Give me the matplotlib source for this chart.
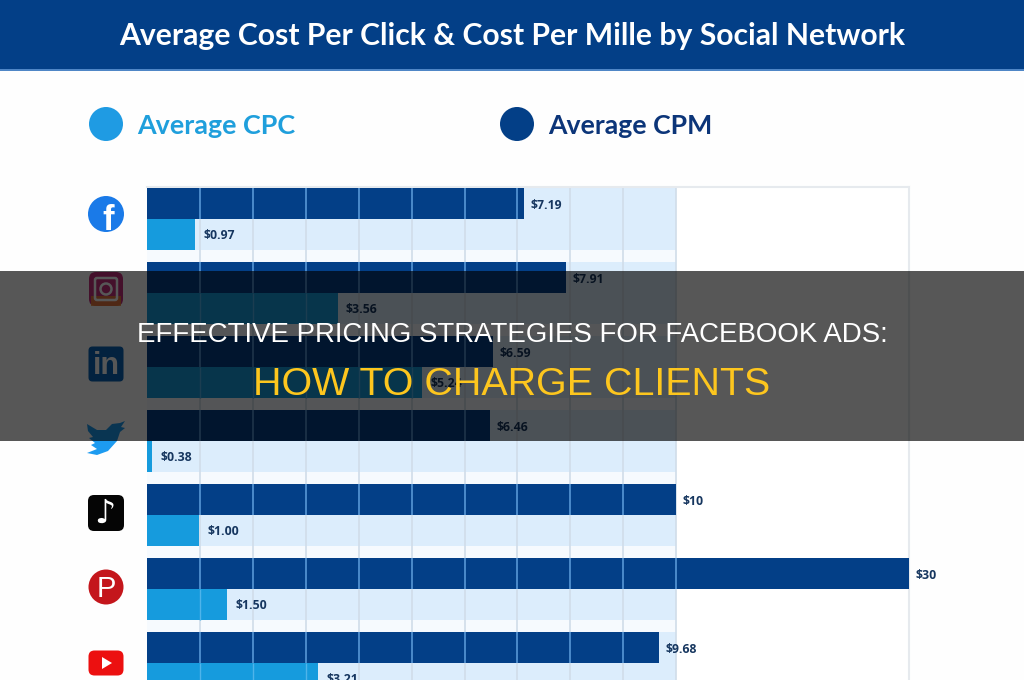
import numpy as np
import matplotlib
matplotlib.use('Agg')
import matplotlib.pyplot as plt
from matplotlib.patches import Circle, FancyBboxPatch, Polygon, Rectangle

networks = ['Facebook', 'Instagram', 'LinkedIn', 'Twitter', 'TikTok', 'Pinterest', 'YouTube']
cpm = [7.12, 7.92, 6.54, 6.48, 10, 30, 9.68]
cpc = [0.91, 3.6, 5.2, 0.1, 0.98, 1.51, 3.23]
cpm_labels = ['$7.19', '$7.91', '$6.59', '$6.46', '$10', '$30', '$9.68']
cpc_labels = ['$0.97', '$3.56', '$5.24', '$0.38', '$1.00', '$1.50', '$3.21']
grid_values = [1, 2, 3, 4, 5, 6, 7, 8, 9, 10]

title = 'Average Cost Per Click & Cost Per Mille by Social Network'
banner_top = 'EFFECTIVE PRICING STRATEGIES FOR FACEBOOK ADS:'
banner_bottom = 'HOW TO CHARGE CLIENTS'

DARK = '#033f87'
LIGHT = '#169bdd'
BAND = '#dcedfc'
LABEL = '#16365f'


def forward(x):
    x = np.asarray(x, dtype=float)
    return np.where(x <= 10, x, 10 + (x - 10) * 0.22)


def inverse(x):
    x = np.asarray(x, dtype=float)
    return np.where(x <= 10, x, 10 + (x - 10) / 0.22)


fig = plt.figure(figsize=(10.24, 6.8), dpi=100, facecolor='#fefefe')

# chart axes, rows are one unit apart (74 px)
ax = fig.add_axes([147 / 1024, 0, (909 - 147) / 1024, (680 - 187) / 680])
ax.set_xscale('function', functions=(forward, inverse))
ax.set_xlim(0, 30)
ax.set_ylim(6.23, -0.43)
ax.set_facecolor('white')

rows = np.arange(len(networks))
ax.axvspan(0, 10, color='#f6fafe', lw=0, zorder=0)
ax.barh(rows, [10] * len(rows), height=0.84, color=BAND, zorder=1)
ax.vlines(grid_values, -0.43, 6.23, color='#d0dde9', lw=1.2, zorder=2)
ax.barh(rows - 0.21, cpm, height=0.42, color=DARK, zorder=3)
ax.barh(rows + 0.21, cpc, height=0.42, color=LIGHT, zorder=3)

# grid shows through the bars as thin light lines
for i in rows:
    xs = [g for g in grid_values if g < cpm[i]]
    ax.vlines(xs, i - 0.42, i, color='#5f9fdc', lw=1.1, zorder=4)
    xs = [g for g in grid_values if g < cpc[i]]
    ax.vlines(xs, i, i + 0.42, color='#4fb4ea', lw=1.0, zorder=4)
    ax.annotate(cpm_labels[i], (cpm[i], i - 0.21), xytext=(4.5, -1.5), textcoords='offset points',
                va='center', fontsize=8.8, fontweight='bold', color=LABEL,
                family='Open Sans', zorder=5)
    ax.annotate(cpc_labels[i], (cpc[i], i + 0.21), xytext=(6, -0.5), textcoords='offset points',
                va='center', fontsize=8.8, fontweight='bold', color=LABEL,
                family='Open Sans', zorder=5)

ax.set_xticks([])
ax.set_yticks([])
ax.spines['left'].set_visible(False)
ax.spines['bottom'].set_visible(False)
ax.spines['top'].set_color('#e6eaee')
ax.spines['right'].set_color('#e6eaee')
ax.spines['top'].set_linewidth(1.5)
ax.spines['right'].set_linewidth(1.5)

# overlay in pixel coordinates for header, legend, icons and banner
ov = fig.add_axes([0, 0, 1, 1], zorder=5)
ov.set_xlim(0, 1024)
ov.set_ylim(680, 0)
ov.axis('off')
ov.patch.set_alpha(0)

ov.add_patch(Rectangle((0, 0), 1024, 69, color=DARK, lw=0))
ov.add_patch(Rectangle((0, 69), 1024, 1.5, color='#4f86c6', lw=0))
ov.text(512, 36, title, color='white', ha='center', va='center', fontsize=21.7,
        fontweight='bold', family='Lato')

ov.add_patch(Circle((106, 124), 17, color='#1f9be3', lw=0))
ov.text(137, 126, 'Average CPC', color='#1f9fdc', va='center', fontsize=19.4,
        fontweight='bold', family='Lato')
ov.add_patch(Circle((517, 124), 17, color=DARK, lw=0))
ov.text(548, 126, 'Average CPM', color='#0c3579', va='center', fontsize=19.2,
        fontweight='bold', family='Lato')


def rounded(cx, cy, w, h, color, r=5):
    ov.add_patch(FancyBboxPatch((cx - w / 2 + r, cy - h / 2 + r), w - 2 * r, h - 2 * r,
                                boxstyle=f'round,pad={r}', color=color, lw=0))


# icons
ov.add_patch(Circle((106, 214), 18, color='#1a7ae8', lw=0))
ov.text(108, 220, 'f', color='white', ha='center', va='center', fontsize=25,
        fontweight='bold', family='Liberation Sans')

rounded(106, 289, 34, 34, '#c8307f', r=7)
ov.add_patch(Rectangle((91, 296), 30, 10, color='#f08a30', lw=0, alpha=0.8))
ov.add_patch(FancyBboxPatch((97, 280), 18, 18, boxstyle='round,pad=2', fill=False, ec='white', lw=1.8))
ov.add_patch(Circle((106, 289), 5.5, fill=False, ec='white', lw=1.8))

rounded(106, 364, 35, 35, '#0a66b8', r=4)
ov.text(106, 366, 'in', color='white', ha='center', va='center', fontsize=22,
        fontweight='bold', family='Liberation Sans')

bird = [(87, 424), (97, 430), (106, 430), (112, 424), (120, 423), (125, 421), (121, 427), (125, 428),
        (120, 432), (117, 441), (108, 451), (97, 455), (87, 453), (97, 449), (91, 445), (95, 443),
        (89, 438), (93, 437), (88, 431)]
ov.add_patch(Polygon(bird, color='#1d9bf0', lw=0))

rounded(106, 513, 36, 36, '#050505', r=6)
ov.text(105, 513, '♪', color='white', ha='center', va='center', fontsize=24,
        fontweight='bold', family='DejaVu Sans')

ov.add_patch(Circle((106, 587), 17.5, color='#c4161c', lw=0))
ov.text(106, 589, 'P', color='white', ha='center', va='center', fontsize=21,
        family='Liberation Sans')

rounded(106, 663, 35, 25, '#ec1010', r=6)
ov.add_patch(Polygon([(102, 657), (102, 669), (112, 663)], color='white', lw=0))

# title banner over everything, icon texts included
ov.add_patch(Rectangle((0, 271), 1024, 170, color='black', alpha=0.66, lw=0, zorder=6))
ov.text(512, 335.5, banner_top, color='white', ha='center', va='center', fontsize=19.9,
        family='Liberation Sans', zorder=7)
ov.text(511.5, 385, banner_bottom, color='#fdc61e', ha='center', va='center', fontsize=28.4,
        family='Liberation Sans', zorder=7)

fig.savefig('out.png', dpi=100, facecolor=fig.get_facecolor())
